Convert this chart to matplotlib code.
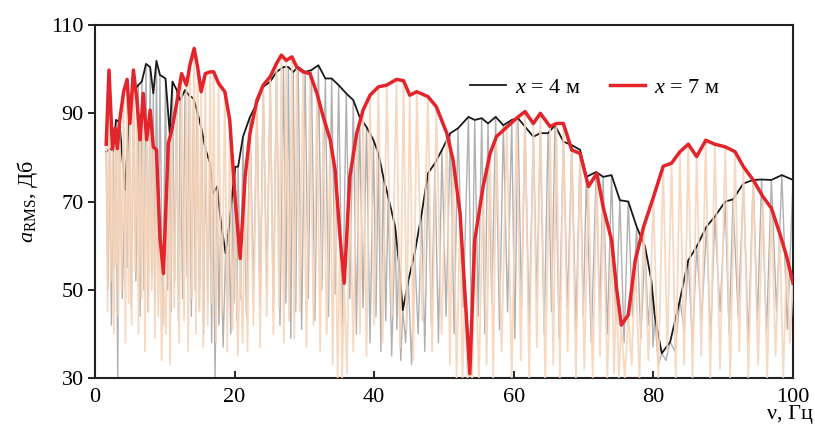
import matplotlib
matplotlib.use("Agg")
import matplotlib.pyplot as plt

plt.rcParams['font.family'] = ['Liberation Serif', 'DejaVu Serif']
plt.rcParams['mathtext.fontset'] = 'custom'
plt.rcParams['mathtext.rm'] = 'Liberation Serif'
plt.rcParams['mathtext.it'] = 'Liberation Serif:italic'

# огибающая x = 7 м (красная) - частоты пиков, Гц
red_freq = [1.6, 2.0, 2.5, 2.9, 3.2, 3.5, 4.1, 4.6, 5.0, 5.5,
            6.0, 6.45, 6.9, 7.4, 7.9, 8.35, 8.8, 9.3, 9.8, 10.5,
            11.0, 11.7, 12.4, 13.1, 13.6, 14.2, 14.7, 15.2, 15.8, 16.5,
            17.0, 17.7, 18.6, 19.3, 20.1, 20.8, 21.5, 22.2, 23.2, 24.1,
            25.1, 26.0, 26.7, 27.4, 28.2, 28.9, 29.8, 30.8, 31.8, 32.7,
            33.7, 34.4, 35.1, 35.7, 36.5, 37.5, 38.4, 39.4, 40.6, 41.8,
            43.2, 44.2, 45.1, 46.1, 47.7, 48.9, 50.4, 51.3, 52.3, 53.0,
            53.7, 54.4, 55.6, 56.6, 57.5, 59.0, 60.4, 61.6, 62.8, 63.8,
            65.2, 66.1, 67.1, 68.3, 69.5, 70.7, 71.9, 72.8, 74.0, 74.7,
            75.4, 76.4, 77.4, 78.6, 80.0, 81.4, 82.6, 83.8, 85.0, 86.2,
            87.5, 88.8, 90.3, 91.7, 92.9, 94.3, 95.7, 96.9, 98.1, 99.1,
            100.0]
red_peak = [83, 99.8, 82, 86.6, 82, 88, 94.9, 97.7, 87.7, 99.8,
            93, 84, 94.5, 84, 90.7, 82.4, 81.7, 62, 53.7, 83.2,
            86.2, 92.3, 99, 96.4, 101, 104.7, 100.5, 94.9, 99, 99.4,
            99.4, 96.8, 94.9, 88.5, 70, 57.1, 75.6, 85.5, 93, 96.4,
            98.3, 101.3, 103.2, 102, 102.8, 100.5, 99.4, 99, 94.5, 89.2,
            84, 77.1, 62, 51.5, 75.6, 85.5, 90.7, 94.1, 96, 96.4,
            97.7, 97.4, 94.1, 94.9, 93.8, 91.5, 85.5, 79.4, 67.3, 49.2,
            31, 61.3, 73.4, 80.9, 84.7, 86.9, 88.9, 90.4, 87.7, 90,
            87, 87.7, 87.7, 81.7, 80.9, 73.4, 76.4, 68.8, 61.3, 50.7,
            42, 44.3, 56.7, 64.3, 71, 78, 78.7, 81.3, 83, 80.2,
            83.9, 83, 82.4, 81.3, 77.9, 74.9, 71.1, 68.5, 62.8, 57.5,
            51.5]
# минимумы осциллирующего сигнала между пиками (x = 7 м)
red_trough = [45, 52, 40, 56, 44, 50, 38, 47, 42, 54,
              40, 48, 36, 45, 50, 39, 44, 34, 40, 33,
              46, 38, 43, 36, 48, 40, 45, 37, 42, 47,
              38, 44, 36, 41, 35, 38, 36, 42, 37, 44,
              40, 46, 38, 43, 39, 45, 37, 42, 36, 40,
              33, 30, 30, 31, 36, 40, 35, 42, 38, 44,
              37, 41, 34, 43, 36, 40, 33, 30, 30, 30,
              30, 30, 33, 30, 36, 30, 34, 30, 37, 30,
              33, 30, 36, 30, 32, 30, 35, 30, 31, 30,
              30, 33, 30, 34, 30, 36, 30, 33, 30, 35,
              30, 32, 30, 36, 30, 33, 30, 35, 30, 38]

# огибающая x = 4 м (черная)
blk_freq = [1.6, 2.1, 2.6, 3.0, 3.5, 4.3, 4.9, 5.5, 6.2, 6.7,
            7.3, 7.9, 8.35, 8.8, 9.3, 10.1, 10.7, 11.1, 11.7, 12.2,
            12.9, 13.5, 14.1, 14.6, 15.3, 15.8, 16.5, 16.9, 17.5, 18.0,
            18.7, 19.2, 19.7, 20.1, 20.5, 21.2, 22.2, 23.2, 24.1, 25.1,
            26.0, 27.0, 27.7, 28.4, 29.1, 30.1, 31.0, 32.0, 33.0, 33.9,
            34.9, 36.0, 37.0, 37.9, 38.9, 39.9, 40.6, 41.3, 42.0, 43.0,
            43.5, 44.1, 44.9, 45.8, 46.8, 47.7, 48.7, 49.7, 50.9, 52.0,
            53.5, 54.4, 55.4, 56.3, 57.4, 58.5, 59.7, 60.6, 61.6, 62.8,
            63.8, 64.9, 65.9, 67.1, 68.3, 69.5, 70.4, 71.8, 72.8, 74.0,
            75.2, 76.4, 77.6, 78.8, 79.7, 80.2, 81.2, 82.4, 83.8, 85.0,
            86.2, 87.6, 88.8, 90.3, 91.4, 92.9, 94.3, 95.5, 96.9, 98.4,
            100.0]
blk_peak = [81.3, 82, 81.5, 88.5, 88, 72.6, 90, 95, 96.4, 97.2,
            101.2, 100.5, 94.5, 101.9, 98.7, 97.9, 85.5, 97.2, 95.3, 93,
            95.3, 94, 93.4, 90.7, 86.2, 82, 78.6, 71.9, 73.4, 65.8,
            58.3, 64.3, 72.6, 77.9, 77.9, 84.7, 89.2, 92.3, 96, 97.2,
            99.4, 100.5, 100.5, 99.4, 100.5, 99.4, 99.8, 100.9, 97.9, 97.9,
            96.4, 94.5, 93, 89.2, 86.9, 83.9, 80.9, 75.6, 71.1, 64.3,
            56.7, 45.4, 52.2, 58.3, 67.3, 76.4, 78.7, 81.7, 85.5, 86.6,
            89.2, 88.5, 88.9, 87.7, 89.2, 87.3, 88.5, 88.9, 87, 84.7,
            85.5, 85.5, 87.3, 83.6, 82.8, 81.7, 75.6, 76.7, 75.6, 76,
            70.3, 70, 64.3, 59.8, 52.2, 44, 35.6, 38.2, 47.7, 56.7,
            59.8, 64.3, 66.6, 70, 70.5, 74.1, 74.9, 75, 74.9, 76,
            74.9]
blk_trough = [50, 42, 55, 30, 48, 55, 46, 52, 44, 50,
              45, 53, 47, 55, 42, 50, 45, 52, 43, 48,
              53, 44, 50, 46, 40, 48, 38, 30, 42, 37,
              45, 40, 47, 43, 48, 44, 50, 46, 51, 45,
              42, 47, 39, 45, 41, 48, 43, 50, 44, 49,
              42, 48, 40, 46, 38, 44, 36, 43, 35, 41,
              34, 38, 33, 40, 36, 42, 38, 44, 40, 46,
              38, 44, 40, 47, 41, 45, 39, 46, 42, 48,
              40, 45, 39, 46, 41, 44, 38, 45, 40, 43,
              38, 44, 39, 42, 37, 33, 34, 36, 41, 38,
              43, 39, 45, 40, 44, 38, 43, 40, 45, 41]

x_ticks = [0, 20, 40, 60, 80, 100]
y_ticks = [30, 50, 70, 90, 110]


def zigzag(freq, peak, trough):
    # пики на огибающей, минимумы посередине между соседними пиками
    xs, ys = [], []
    for i in range(len(freq) - 1):
        xs += [freq[i], (freq[i] + freq[i + 1]) / 2]
        ys += [peak[i], trough[i]]
    xs.append(freq[-1])
    ys.append(peak[-1])
    return xs, ys


fig = plt.figure(figsize=(8.15, 4.33), dpi=100)
ax = fig.add_axes([0.1166, 0.127, 0.8564, 0.815])

gx, gy = zigzag(blk_freq, blk_peak, blk_trough)
ox, oy = zigzag(red_freq, red_peak, red_trough)

ax.plot(gx, gy, color='#b0b0b0', lw=1.0, zorder=1)
ax.plot(blk_freq, blk_peak, color='#1a1a1a', lw=1.3, zorder=2, label=r'$x$ = 4 м')
ax.plot(ox, oy, color='#f7d4ba', lw=1.3, alpha=0.9, zorder=3)
ax.plot(red_freq, red_peak, color='#e3242b', lw=2.5, zorder=4, label=r'$x$ = 7 м')

ax.set_xlim(0, 100)
ax.set_ylim(30, 110)
ax.set_xticks(x_ticks)
ax.set_yticks(y_ticks)
ax.tick_params(axis='x', direction='in', length=5, width=1.2, labelsize=16, pad=7)
ax.tick_params(axis='y', direction='out', length=5, width=1.2, labelsize=16, pad=3)
for sp in ax.spines.values():
    sp.set_linewidth(1.5)
    sp.set_color('#222222')

ax.set_ylabel(r'$a_{\mathrm{RMS}}$, Дб', fontsize=16, labelpad=8)
fig.text(0.998, 0.02, 'ν, Гц', fontsize=16, ha='right', va='bottom')

ax.legend(loc='center left', bbox_to_anchor=(0.525, 0.824), ncol=2, frameon=False,
          fontsize=16, handlelength=1.6, handletextpad=0.4, columnspacing=1.3,
          borderaxespad=0)

fig.savefig('out.png', dpi=100)
